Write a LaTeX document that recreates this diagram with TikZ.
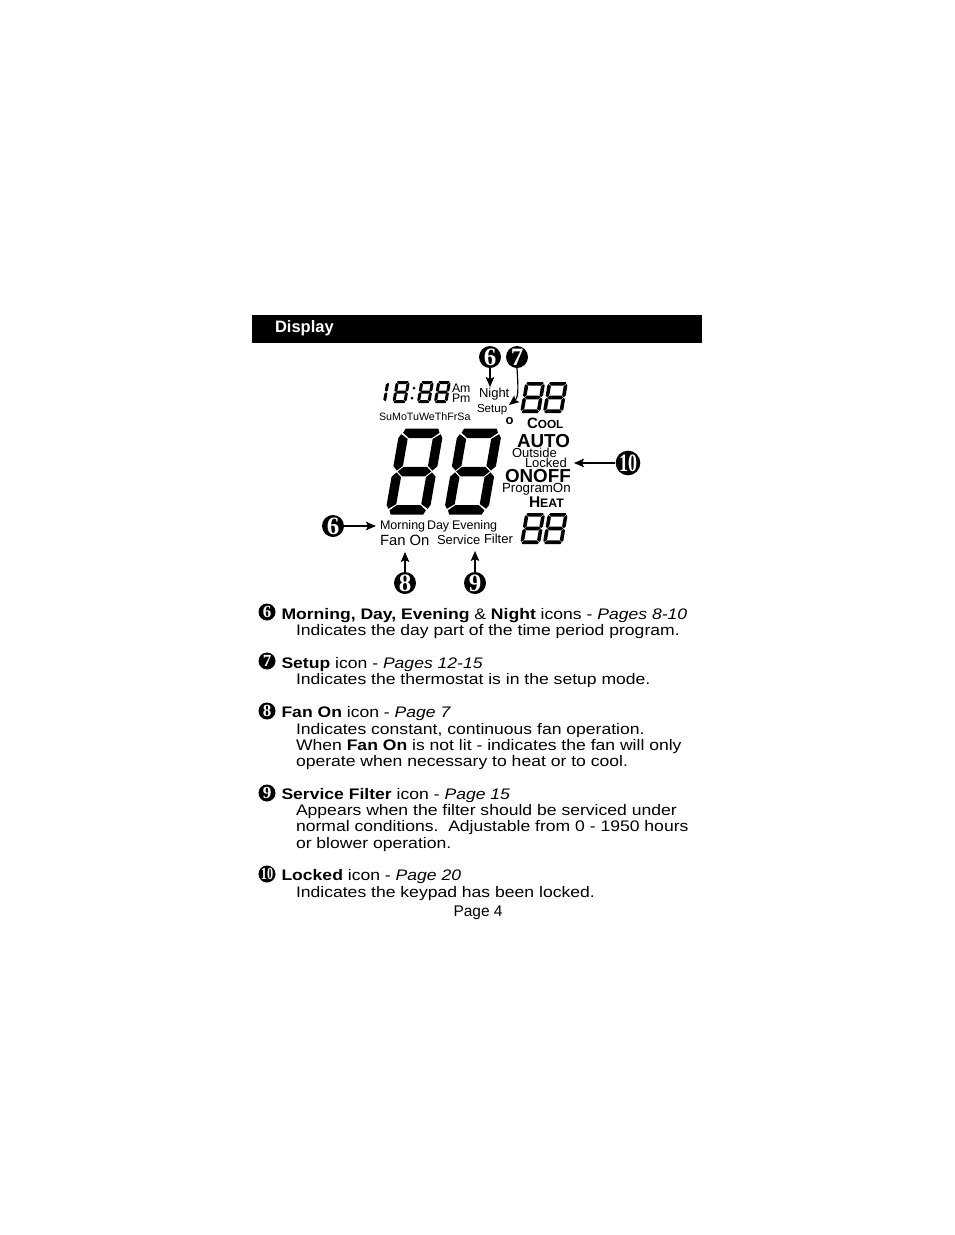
\documentclass[tikz,border=0pt]{standalone}
\usepackage{fontspec}
\setmainfont{Liberation Sans}
\newfontfamily\numfont{Liberation Serif}
\newfontfamily\wide[FakeStretch=1.148]{Liberation Sans}
\usetikzlibrary{arrows.meta}
\newcommand{\fs}[1]{\fontsize{#1}{#1}\selectfont}
\newcommand{\sevenparams}[3]{\pgfmathsetmacro{\W}{#1}\pgfmathsetmacro{\H}{#2}\pgfmathsetmacro{\T}{#3}%
\pgfmathsetmacro{\G}{\T*0.1}\pgfmathsetmacro{\M}{\H/2}\pgfmathsetmacro{\C}{\T*0.6}}
% one vertical bar, drawn as the upper left one
\newcommand{\sidebar}{\fill (0,\T) -- (\C/2-\G*.5,\T/2+\G) -- (\T,\T+\G) -- (\T,\M-\T/2-\G) -- (\T*.45,\M-\G) -- (0,\M-\T*.55) -- cycle;}
\newcommand{\capbar}{\fill (\C,0) -- (\W-\C,0) -- (\W-\C/2-\G,\T/2-\G*.5) -- (\W-\T-\G,\T) -- (\T+\G,\T) -- (\C/2+\G,\T/2-\G*.5) -- cycle;}
\newcommand{\rightsegs}{%
\begin{scope}[shift={(\W,0)},xscale=-1]\sidebar\end{scope}
\begin{scope}[shift={(\W,\H)},xscale=-1,yscale=-1]\sidebar\end{scope}}
\newcommand{\sevenseg}[6]{%
\begin{scope}[shift={(#1,#2)},xslant=#6]
\sevenparams{#3}{#4}{#5}
\capbar
\begin{scope}[shift={(0,\H)},yscale=-1]\capbar\end{scope}
\fill (\T+\G,\M-\T/2) -- (\W-\T-\G,\M-\T/2) -- (\W-\T*.45-\G,\M) -- (\W-\T-\G,\M+\T/2) -- (\T+\G,\M+\T/2) -- (\T*.45+\G,\M) -- cycle;
\sidebar
\begin{scope}[shift={(0,\H)},yscale=-1]\sidebar\end{scope}
\rightsegs
\end{scope}}
\newcommand{\sevenone}[6]{%
\begin{scope}[shift={(#1,#2)},xslant=#6]
\sevenparams{#3}{#4}{#5}
\rightsegs
\end{scope}}
\tikzset{
  x=1pt,y=-1pt,
  lbl/.style={anchor=base west,inner sep=0pt,outer sep=0pt,font=\fs{#1}},
  boldlbl/.style={anchor=base west,inner sep=0pt,outer sep=0pt,font=\bfseries\fs{#1}},
  body/.style={anchor=base west,inner sep=0pt,outer sep=0pt,font=\wide\fs{15.3}},
  bignum/.style={circle,fill=black,text=white,inner sep=0pt,minimum size=22pt,font=\numfont\bfseries\fs{25}},
  smallnum/.style={circle,fill=black,text=white,inner sep=0pt,minimum size=17pt,font=\numfont\bfseries\fs{17}},
  pointer/.style={draw=black,line width=1.2pt,-{Stealth[length=10pt,width=8.5pt,inset=2pt]}}
}
\newcommand{\bw}[1]{{\bfseries #1}}
\newcommand{\ten}{\scalebox{.72}[1]{10}}
\begin{document}
\begin{tikzpicture}
\useasboundingbox (0,0) rectangle (954,1235);
\fill[black] (252,315) rectangle (702,343);
\node[boldlbl=16.5,text=white] (title) at (275,332) {Display};

% LCD digits
\sevenone{385}{381}{4.5}{22}{3}{0.17}
\sevenseg{396}{381}{14}{22}{3}{0.17}
\sevenseg{420.5}{381}{13.5}{22}{3}{0.17}
\sevenseg{437.5}{381}{13.5}{22}{3}{0.17}
\fill (414,388) circle (1.5);
\fill (412,398) circle (1.5);
\sevenseg{525.3}{382}{20}{31}{3.6}{0.17}
\sevenseg{548}{382}{20}{31}{3.6}{0.17}
\sevenseg{525.3}{513}{20}{31}{3.6}{0.17}
\sevenseg{548}{513}{20}{31}{3.6}{0.17}
\sevenseg{400}{428.5}{44}{86}{9.5}{0.175}
\sevenseg{458.5}{428.5}{44}{86}{9.5}{0.175}

% LCD labels
\node[lbl=12.3] (am) at (452,392) {Am};
\node[lbl=12.3] (pm) at (452,402) {Pm};
\node[lbl=13] (night) at (479,397) {Night};
\node[lbl=11.6] (setup) at (477,412) {Setup};
\node[lbl=10.7] (days) at (379,420) {SuMoTuWeThFrSa};
\node[boldlbl=13] (deg) at (505.5,424) {o};
\node[boldlbl=15] (cool) at (527,428) {C{\fs{11.8}OOL}};
\node[boldlbl=18.8] (auto) at (517,447) {AUTO};
\node[lbl=13] (outside) at (512,457) {Outside};
\node[lbl=13] (locked) at (525,467) {Locked};
\node[boldlbl=18.8] (onoff) at (505,482) {ONOFF};
\node[lbl=13.3] (program) at (502,492) {ProgramOn};
\node[boldlbl=15.5] (heat) at (529,507) {H{\fs{12.3}EAT}};
\node[lbl=12.5] (morning) at (380,529) {Morning};
\node[lbl=12.5] (day) at (427,529) {Day};
\node[lbl=12.5] (evening) at (452,529) {Evening};
\node[lbl=14.8] (fanon) at (380,545) {Fan On};
\node[lbl=13] (service) at (437,544.5) {Service};
\node[lbl=13] (filter) at (484,543) {Filter};

% Callouts
\node[bignum] (a6) at (490,357) {6};
\node[bignum] (a7) at (517,357) {7};
\node[bignum] (a10) at (628,463) {\ten};
\node[bignum] (b6) at (333,526) {6};
\node[bignum] (a8) at (405,583) {8};
\node[bignum] (a9) at (475,583) {9};
\coordinate (tip6) at (490,387);
\coordinate (tip7) at (509,405);
\coordinate (tip10) at (574,463);
\coordinate (tipb6) at (376,526);
\coordinate (tip8) at (405,552);
\coordinate (tip9) at (475,551);
\draw[pointer] (a6) -- (tip6);
\draw[pointer] (a7.south) .. controls (518,385) and (519,397) .. (tip7);
\draw[pointer] (a10) -- (tip10);
\draw[pointer] (b6) -- (tipb6);
\draw[pointer] (a8) -- (tip8);
\draw[pointer] (a9) -- (tip9);

% Legend
\node[smallnum] (n6) at (267,612) {6};
\node[body] at (281.5,619) {\bw{Morning, Day, Evening} \& \bw{Night} icons - \textit{Pages 8-10}};
\node[body] at (296,635) {Indicates the day part of the time period program.};
\node[smallnum] (n7) at (267,661) {7};
\node[body] at (281.5,668) {\bw{Setup} icon - \textit{Pages 12-15}};
\node[body] at (296,684) {Indicates the thermostat is in the setup mode.};
\node[smallnum] (n8) at (267,711) {8};
\node[body] at (281.5,717) {\bw{Fan On} icon - \textit{Page 7}};
\node[body] at (296,734) {Indicates constant, continuous fan operation.};
\node[body] at (296,750) {When \bw{Fan On} is not lit - indicates the fan will only};
\node[body] at (296,766) {operate when necessary to heat or to cool.};
\node[smallnum] (n9) at (267,793) {9};
\node[body] at (281.5,799) {\bw{Service Filter} icon - \textit{Page 15}};
\node[body] at (296,815) {Appears when the filter should be serviced under};
\node[body] at (296,831) {normal conditions.\ \ Adjustable from 0 - 1950 hours};
\node[body] at (296,848) {or blower operation.};
\node[smallnum] (n10) at (267,874) {\ten};
\node[body] at (281.5,880) {\bw{Locked} icon - \textit{Page 20}};
\node[body] at (296,897) {Indicates the keypad has been locked.};
\node[lbl=15.5] (page) at (453.5,916) {Page 4};
\end{tikzpicture}
\end{document}
